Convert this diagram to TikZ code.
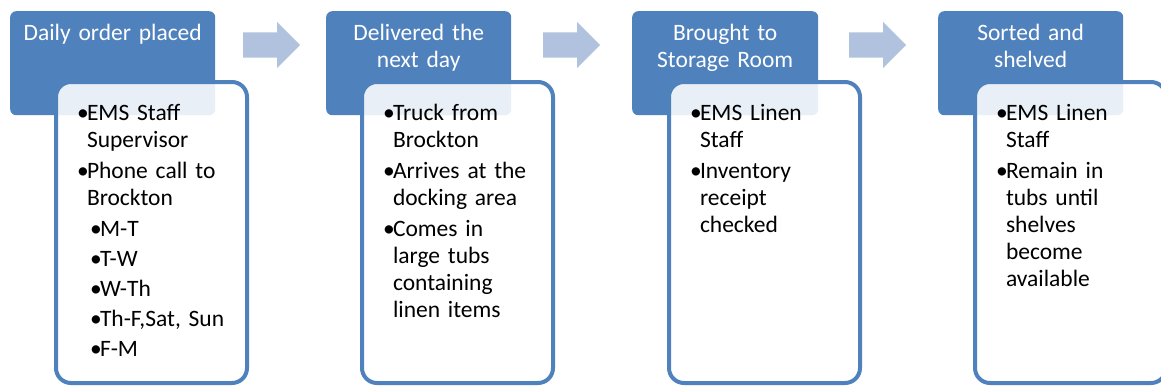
\documentclass[tikz,border=0pt]{standalone}
\usepackage{fontspec}
\setmainfont{Carlito}
\usetikzlibrary{shapes.arrows}
\definecolor{stepblue}{RGB}{79,129,189}
\definecolor{arrowblue}{RGB}{176,194,222}
\newcommand{\bitem}{\makebox[10pt][l]{•}}
\newcommand{\sitem}{\hspace*{13pt}\makebox[10pt][l]{•}}
\newcommand{\cont}{\hspace*{10pt}}

\begin{document}
\begin{tikzpicture}[x=1pt,y=-1pt]
        \tikzset{head/.style={rectangle,rounded corners=6pt,fill=stepblue,text=white,
                anchor=north west,inner sep=0pt,text height=29pt,text depth=75pt,
                align=center,font=\fontsize{23.5}{27}\selectfont},
            detail/.style={rectangle,rounded corners=15pt,draw=stepblue,line width=4pt,
                fill=white,fill opacity=0.88,text opacity=1,anchor=north west,outer sep=0pt,
                inner xsep=21pt,inner ysep=0pt,text width=149pt,text height=38pt,
                text depth=263pt,align=left,font=\fontsize{23.5}{27}\selectfont},
            next/.style={single arrow,fill=arrowblue,inner xsep=0pt,inner ysep=12.5pt,
                minimum height=57pt,minimum width=46pt,single arrow head extend=10.5pt,
                anchor=tail}}
        \useasboundingbox (0,0) rectangle (1161,388);
        \node[head,text width=205pt] (h1) at (10,11) {Daily order placed};
        \node[head,text width=185pt] (h2) at (326,11) {Delivered the\\next day};
        \node[head,text width=186pt] (h3) at (632,11) {Brought to\\Storage Room};
        \node[head,text width=185pt] (h4) at (938,11) {Sorted and\\shelved};
        \node[detail] (d1) at (56,82) {\bitem EMS Staff\\\cont Supervisor\\[4pt]
            \bitem Phone call to\\\cont Brockton\\[4pt]
            \sitem M-T\\[3pt]\sitem T-W\\[3pt]\sitem W-Th\\[3pt]
            \sitem Th-F,Sat, Sun\\[3pt]\sitem F-M};
        \node[detail] (d2) at (362,82) {\bitem Truck from\\\cont Brockton\\[4pt]
            \bitem Arrives at the\\\cont docking area\\[4pt]
            \bitem Comes in\\\cont large tubs\\\cont containing\\\cont linen items};
        \node[detail] (d3) at (669,82) {\bitem EMS Linen\\\cont Staff\\[4pt]
            \bitem Inventory\\\cont receipt\\\cont checked};
        \node[detail] (d4) at (975,82) {\bitem EMS Linen\\\cont Staff\\[4pt]
            \bitem Remain in\\\cont tubs until\\\cont shelves\\\cont become\\\cont available};
        \node[next] (a1) at (243,45) {};
        \node[next] (a2) at (543,45) {};
        \node[next] (a3) at (849,45) {};
    \end{tikzpicture}
\end{document}
